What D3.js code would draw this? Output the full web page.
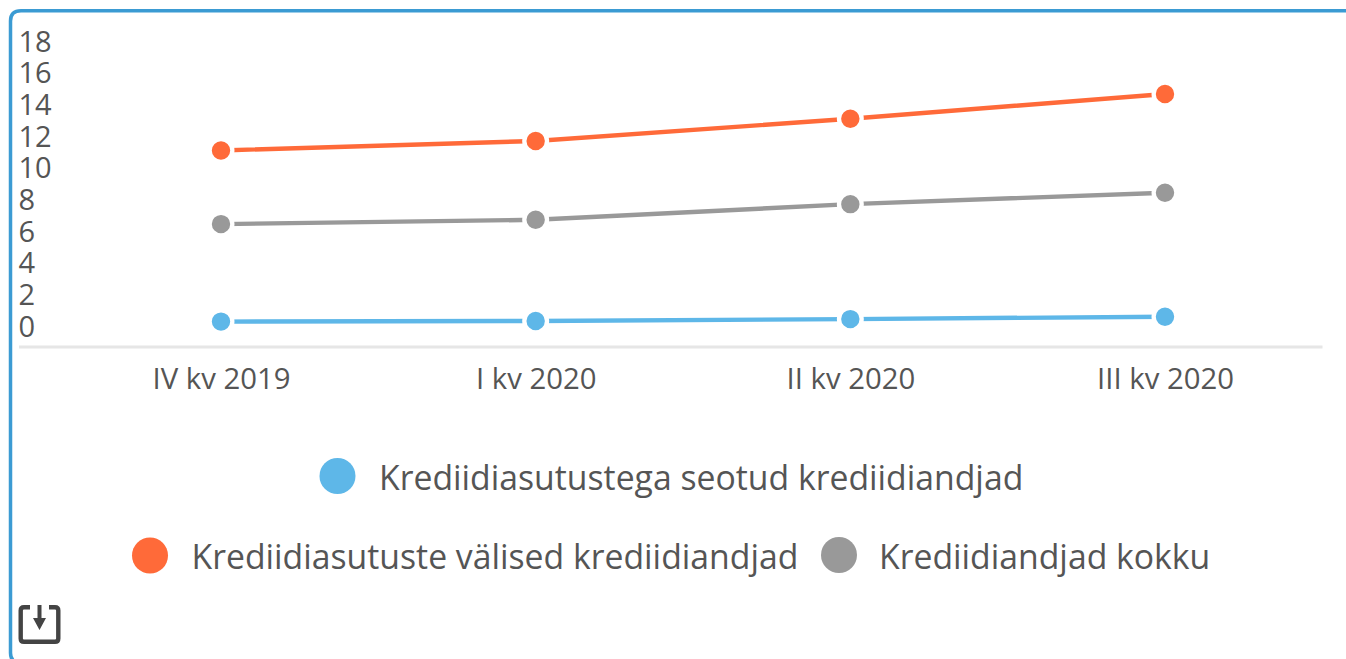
<!DOCTYPE html>
<html>
<head>
<meta charset="utf-8">
<script src="https://cdn.jsdelivr.net/npm/d3@7"></script>
<style>
  html, body { margin: 0; padding: 0; background: #fff; overflow: hidden; }
  svg { display: block; }
  text { font-family: "Open Sans", sans-serif; fill: #555; }
</style>
</head>
<body>
<svg id="chart" width="1346" height="659"></svg>
<script>
const categories = ['IV kv 2019', 'I kv 2020', 'II kv 2020', 'III kv 2020'];
const yTicks = [0, 2, 4, 6, 8, 10, 12, 14, 16, 18];

const seriesNames = ['Krediidiasutustega seotud krediidiandjad', 'Krediidiasutuste välised krediidiandjad', 'Krediidiandjad kokku'];
const seriesColors = ['#5eb7e8', '#ff6a39', '#999999'];

const seotud = [0.34, 0.38, 0.5, 0.65];
const valised = [11.15, 11.75, 13.15, 14.72];
const kokku = [6.5, 6.77, 7.76, 8.48];
const seriesValues = [seotud, valised, kokku];

const svg = d3.select('#chart');

// outer box, cut off on the right and at the bottom like the original
svg.append('path')
  .attr('d', 'M1360,10.8 H21 Q10.5,10.8 10.5,21 V653 Q10.5,663 21,663 H1360')
  .attr('fill', 'none')
  .attr('stroke', '#3b9bd3')
  .attr('stroke-width', 3.5);

const xScale = d3.scalePoint().domain(categories).range([221, 1165]);
const yScale = d3.scaleLinear().domain([0, 18]).range([327, 42]);

// y labels sit well above the baseline in the original
const yAxis = d3.axisLeft(yScale).tickValues(yTicks).tickSize(0).tickPadding(0);
const yAxisG = svg.append('g').attr('transform', 'translate(18.5,0)').call(yAxis);
yAxisG.select('.domain').remove();
yAxisG.selectAll('text')
  .attr('text-anchor', 'start')
  .attr('x', 0)
  .style('font-size', '29px');

const baseline = 347;
const xAxis = d3.axisBottom(xScale).tickSize(0).tickPadding(0);
const xAxisG = svg.append('g').attr('transform', `translate(0,${baseline})`).call(xAxis);
xAxisG.select('.domain').remove();
xAxisG.selectAll('text')
  .attr('y', 42)
  .attr('dy', 0)
  .style('font-size', '29.3px');

svg.append('line')
  .attr('x1', 19).attr('x2', 1322.5)
  .attr('y1', baseline).attr('y2', baseline)
  .attr('stroke', '#e6e6e6')
  .attr('stroke-width', 3);

const line = d3.line()
  .x((d, i) => xScale(categories[i]))
  .y(d => yScale(d));

seriesValues.forEach((values, s) => {
  svg.append('path')
    .attr('d', line(values))
    .attr('fill', 'none')
    .attr('stroke', seriesColors[s])
    .attr('stroke-width', 4.4);

  // white ring around each marker leaves a gap in the line
  svg.selectAll(null)
    .data(values)
    .join('circle')
    .attr('cx', (d, i) => xScale(categories[i]))
    .attr('cy', d => yScale(d))
    .attr('r', 11.35)
    .attr('fill', seriesColors[s])
    .attr('stroke', '#fff')
    .attr('stroke-width', 4.3);
});

// legend
const legendItems = [
  { x: 337.5, y: 476, textX: 379, textY: 490, name: seriesNames[0], color: seriesColors[0] },
  { x: 150, y: 555.5, textX: 191.5, textY: 568.5, name: seriesNames[1], color: seriesColors[1] },
  { x: 839, y: 555, textX: 879, textY: 568.5, name: seriesNames[2], color: seriesColors[2] }
];
svg.selectAll('.legend-dot')
  .data(legendItems)
  .join('circle')
  .attr('class', 'legend-dot')
  .attr('cx', d => d.x)
  .attr('cy', d => d.y)
  .attr('r', 18)
  .attr('fill', d => d.color);
svg.selectAll('.legend-label')
  .data(legendItems)
  .join('text')
  .attr('class', 'legend-label')
  .attr('x', d => d.textX)
  .attr('y', d => d.textY)
  .style('font-size', '33.75px')
  .text(d => d.name);

// download icon
const icon = svg.append('g').attr('transform', 'translate(18.5,605)');
icon.append('path')
  .attr('d', 'M11.5,2.2 H5.5 Q2.2,2.2 2.2,5.5 V33.5 Q2.2,36.8 5.5,36.8 H36.5 Q39.8,36.8 39.8,33.5 V5.5 Q39.8,2.2 36.5,2.2 H30.5')
  .attr('fill', 'none')
  .attr('stroke', '#444')
  .attr('stroke-width', 4.4);
icon.append('path')
  .attr('d', 'M19,0 H23 V13 H27.5 L21,25 L14.5,13 H19 Z')
  .attr('fill', '#444');
</script>
</body>
</html>
